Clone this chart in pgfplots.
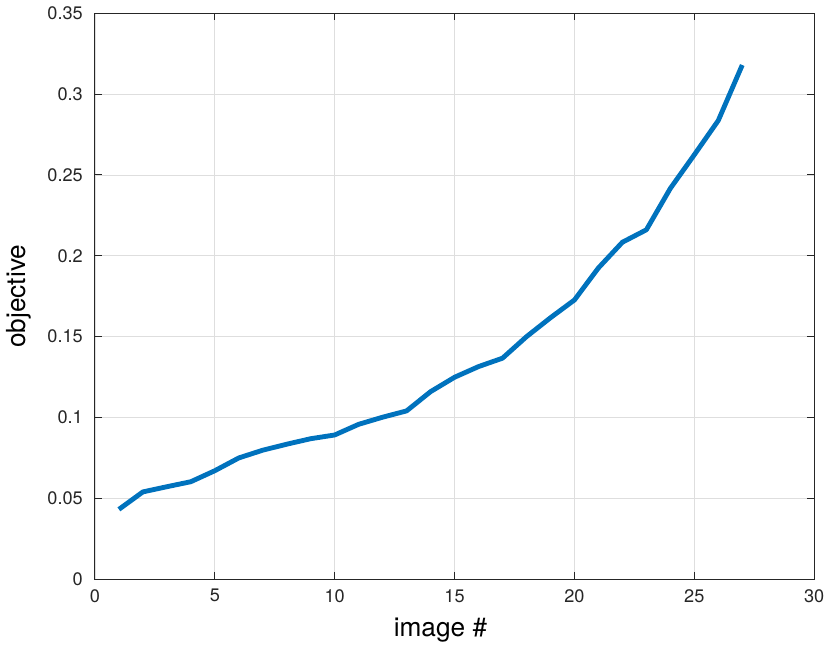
\documentclass[border=0pt]{standalone}
\usepackage{fontspec}
\setmainfont{TeX Gyre Heros}
\usepackage{pgfplots}
\pgfplotsset{compat=1.18}
\definecolor{mblue}{rgb}{0,0.447,0.741}
\definecolor{axgray}{rgb}{0.15,0.15,0.15}

\begin{document}
\begin{tikzpicture}
\begin{axis}[
  width=356.5pt, height=280.5pt, scale only axis,
  xmin=0, xmax=30, ymin=0, ymax=0.35,
  xtick={0,5,...,30},
  ytick={0,0.05,...,0.35},
  yticklabels={0,0.05,0.1,0.15,0.2,0.25,0.3,0.35},
  scaled ticks=false,
  /pgf/number format/assume math mode=true,
  ticklabel style={font=\fontsize{9}{10}\selectfont, text=axgray},
  yticklabel style={xshift=-2.5pt},
  xticklabel style={yshift=-1.5pt},
  label style={font=\fontsize{13}{15}\selectfont, text=black},
  xlabel={image \#}, ylabel={objective},
  xlabel style={yshift=-1pt, xshift=-7pt},
  ylabel style={yshift=1pt},
  grid=major,
  major grid style={draw=black!13, line width=0.4pt},
  axis line style={draw=axgray, line width=0.5pt},
  tick style={draw=axgray, line width=0.5pt},
  tick align=inside,
  major tick length=3.5pt,
]
\addplot[color=mblue, line width=2.4pt, line join=round] coordinates {
(1,0.0432)(2,0.0540)(3,0.0572)(4,0.0603)(5,0.0671)(6,0.0750)(7,0.0798)
(8,0.0835)(9,0.0869)(10,0.0892)(11,0.0958)(12,0.1002)(13,0.1041)
(14,0.1160)(15,0.1249)(16,0.1315)(17,0.1367)(18,0.1500)(19,0.1617)
(20,0.1727)(21,0.1925)(22,0.2084)(23,0.2161)(24,0.2417)(25,0.2625)
(26,0.2837)(27,0.3180)};
\end{axis}
\end{tikzpicture}
\end{document}
